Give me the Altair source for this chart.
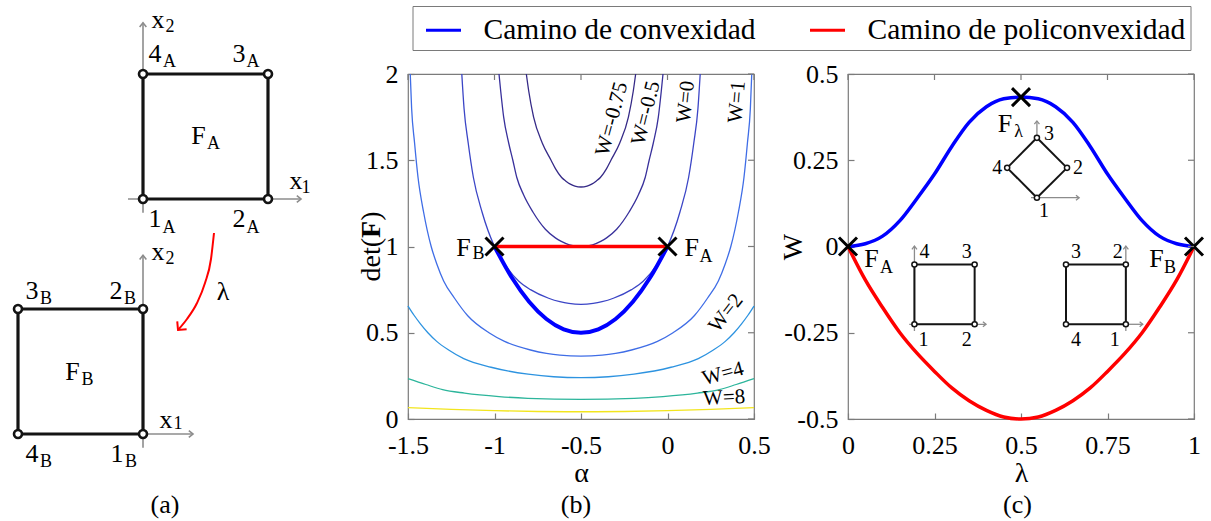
import altair as alt
import pandas as pd

FONT = "Liberation Serif"
BLUE = "#0000ff"
RED = "#ff0000"
FRAME = "#7b7b7b"
GRAY = "#8c8c8c"
INK = "#141414"

# ---------------- panel (a): reference squares ----------------
sqA_x = [0, 1, 1, 0]
sqA_y = [0, 0, 1, 1]
sqB_x = [0, 0, -1, -1]
sqB_y = [-1.88, -0.88, -0.88, -1.88]
a_axis_x1 = [-0.12, 0.0, 0.0, 0.0]
a_axis_y1 = [0.0, -0.11, -1.88, -1.99]
a_axis_x2 = [1.264, 0.0, 0.4, 0.0]
a_axis_y2 = [0.0, 1.41, -1.88, -0.45]
lam_arrow_x = [0.568, 0.544, 0.496, 0.432, 0.352, 0.28]
lam_arrow_y = [-0.272, -0.48, -0.672, -0.832, -0.96, -1.048]

# ---------------- panel (b): contour map ----------------
b_x_ticks = [-1.5, -1, -0.5, 0, 0.5]
b_y_ticks = [0, 0.5, 1, 1.5, 2]
w_levels = ["W=-0.75", "W=-0.5", "W=0", "W=1", "W=2", "W=4", "W=8"]
alpha_wm075 = [-0.816, -0.802, -0.774, -0.724, -0.673, -0.647, -0.612, -0.589, -0.559, -0.535, -0.5,
               -0.465, -0.441, -0.411, -0.388, -0.353, -0.327, -0.276, -0.226, -0.198, -0.184]
det_wm075 = [2.0, 1.9, 1.75, 1.6, 1.5, 1.45, 1.4, 1.38, 1.36, 1.35, 1.345,
             1.35, 1.36, 1.38, 1.4, 1.45, 1.5, 1.6, 1.75, 1.9, 2.0]
alpha_wm05 = [-0.974, -0.964, -0.947, -0.918, -0.894, -0.871, -0.832, -0.778, -0.706, -0.648, -0.614, -0.567, -0.5,
              -0.433, -0.386, -0.352, -0.294, -0.222, -0.168, -0.129, -0.106, -0.082, -0.053, -0.036, -0.026]
det_wm05 = [2.0, 1.9, 1.75, 1.6, 1.5, 1.4, 1.3, 1.2, 1.1, 1.05, 1.03, 1.01, 1.0,
            1.01, 1.03, 1.05, 1.1, 1.2, 1.3, 1.4, 1.5, 1.6, 1.75, 1.9, 2.0]
alpha_w0 = [-1.189, -1.176, -1.152, -1.122, -1.072, -1.0, -0.942, -0.861, -0.792, -0.687, -0.622, -0.57, -0.5,
            -0.43, -0.378, -0.313, -0.208, -0.139, -0.058, 0.0, 0.072, 0.122, 0.152, 0.176, 0.189]
det_w0 = [2.0, 1.8, 1.6, 1.4, 1.2, 1.0, 0.9, 0.8, 0.75, 0.7, 0.68, 0.67, 0.665,
          0.67, 0.68, 0.7, 0.75, 0.8, 0.9, 1.0, 1.2, 1.4, 1.6, 1.8, 2.0]
alpha_w1 = [-1.487, -1.479, -1.462, -1.442, -1.41, -1.366, -1.334, -1.294, -1.231, -1.156, -1.032, -0.942, -0.792,
            -0.7, -0.622, -0.5, -0.378, -0.3, -0.208, -0.058, 0.032, 0.156, 0.231, 0.294, 0.334, 0.366, 0.41,
            0.442, 0.462, 0.479, 0.487]
det_w1 = [2.0, 1.8, 1.6, 1.4, 1.2, 1.0, 0.9, 0.8, 0.7, 0.6, 0.5, 0.45, 0.4, 0.38, 0.37, 0.365,
          0.37, 0.38, 0.4, 0.45, 0.5, 0.6, 0.7, 0.8, 0.9, 1.0, 1.2, 1.4, 1.6, 1.8, 2.0]
alpha_w2 = [-1.5, -1.464, -1.427, -1.385, -1.334, -1.265, -1.178, -1.02, -0.806, -0.658, -0.5,
            -0.342, -0.194, 0.02, 0.178, 0.265, 0.334, 0.385, 0.427, 0.464, 0.5]
det_w2 = [0.655, 0.6, 0.55, 0.5, 0.45, 0.4, 0.35, 0.3, 0.26, 0.245, 0.24,
          0.245, 0.26, 0.3, 0.35, 0.4, 0.45, 0.5, 0.55, 0.6, 0.655]
alpha_w4 = [-1.5, -1.397, -1.3, -1.173, -0.974, -0.808, -0.5, -0.192, -0.026, 0.173, 0.3, 0.397, 0.5]
det_w4 = [0.234, 0.2, 0.17, 0.15, 0.13, 0.12, 0.114, 0.12, 0.13, 0.15, 0.17, 0.2, 0.234]
alpha_w8 = [-1.5, -1.25, -1.0, -0.75, -0.5, -0.25, 0.0, 0.25, 0.5]
det_w8 = [0.066, 0.0555, 0.048, 0.0435, 0.042, 0.0435, 0.048, 0.0555, 0.066]
contour_alpha = [alpha_wm075, alpha_wm05, alpha_w0, alpha_w1, alpha_w2, alpha_w4, alpha_w8]
contour_det = [det_wm075, det_wm05, det_w0, det_w1, det_w2, det_w4, det_w8]
label_alpha = [-0.321, -0.124, 0.107, 0.402, 0.338, 0.321, 0.327]
label_det = [1.739, 1.774, 1.838, 1.838, 0.614, 0.261, 0.122]

conv_alpha = [-1, -0.9, -0.8, -0.7, -0.6, -0.5, -0.4, -0.3, -0.2, -0.1, 0]
conv_det = [1, 0.82, 0.68, 0.58, 0.52, 0.5, 0.52, 0.58, 0.68, 0.82, 1]
poly_alpha = [-1, 0]
poly_det = [1, 1]

# ---------------- panel (c): W along the paths ----------------
c_x_ticks = [0, 0.25, 0.5, 0.75, 1]
c_y_ticks = [-0.5, -0.25, 0, 0.25, 0.5]
lam = [0, 0.05, 0.1, 0.15, 0.2, 0.25, 0.3, 0.35, 0.4, 0.45, 0.5,
       0.55, 0.6, 0.65, 0.7, 0.75, 0.8, 0.85, 0.9, 0.95, 1.0]
w_conv = [0, 0.008, 0.03, 0.075, 0.14, 0.21, 0.29, 0.36, 0.405, 0.428, 0.433,
          0.428, 0.405, 0.36, 0.29, 0.21, 0.14, 0.075, 0.03, 0.008, 0]
w_poly = [0, -0.097, -0.177, -0.25, -0.31, -0.362, -0.41, -0.447, -0.475, -0.494, -0.5,
          -0.494, -0.475, -0.447, -0.41, -0.362, -0.31, -0.25, -0.177, -0.097, 0]
path_names = ["Camino de convexidad", "Camino de policonvexidad"]
mark_lam = [0, 0.5, 1]
mark_w = [0, 0.433, 0]
insA_x = [0.192, 0.366, 0.366, 0.192]
insA_y = [-0.2255, -0.2255, -0.052, -0.052]
insB_x = [0.803, 0.803, 0.630, 0.630]
insB_y = [-0.2255, -0.052, -0.052, -0.2255]
insL_x = [0.546, 0.633, 0.546, 0.46]
insL_y = [0.1415, 0.228, 0.315, 0.228]
ins_ax_x1 = [0.177, 0.192, 0.803, 0.803, 0.529, 0.546]
ins_ax_y1 = [-0.2255, -0.245, -0.2255, -0.245, 0.1415, 0.315]
ins_ax_x2 = [0.399, 0.192, 0.852, 0.803, 0.668, 0.546]
ins_ax_y2 = [-0.2255, 0.001, -0.2255, 0.001, 0.1415, 0.364]

# ---------------- helpers ----------------
XSHAPE = "M-1,-1L1,1M-1,1L1,-1"
CHEV = "M-1,-0.8L0,0L-1,0.8"
CHEV_RED = "M-1,-1L0,0L-1,1"


def axis_common():
    return dict(offset=-6, tickSize=6, domain=False, grid=False, tickColor=FRAME, tickWidth=1.2,
                labelFont=FONT, labelFontSize=26, labelColor="black", titleFont=FONT, titleFontSize=28,
                titleFontWeight="normal", titleColor="black", labelFlush=False, labelOverlap=False,
                labelExpr="'' + datum.value", titleBaseline="middle")


def make_enc(xdom, ydom, xaxis=None, yaxis=None):
    xs = alt.Scale(domain=xdom, nice=False, zero=False)
    ys = alt.Scale(domain=ydom, nice=False, zero=False)

    def X():
        return alt.X("x:Q", scale=xs, axis=xaxis)

    def Y():
        return alt.Y("y:Q", scale=ys, axis=yaxis)
    return X, Y


def pts(xs, ys):
    return pd.DataFrame({"x": xs, "y": ys})


def edges(xs, ys):
    n = len(xs)
    return pd.DataFrame({"x": xs, "y": ys,
                         "x2": [xs[(i + 1) % n] for i in range(n)],
                         "y2": [ys[(i + 1) % n] for i in range(n)]})


def segs(x1, y1, x2, y2):
    return pd.DataFrame({"x": x1, "y": y1, "x2": x2, "y2": y2})


def txt(x, y, s, dx, dy, size, X, Y, angle=0):
    df = pd.DataFrame({"x": [x], "y": [y], "t": [s]})
    return alt.Chart(df).mark_text(dx=dx, dy=dy, fontSize=size, font=FONT, color="black",
                                   align="center", baseline="middle", angle=angle).encode(
        x=X(), y=Y(), text="t:N")


def sublabel(x, y, main, sub, off, X, Y, msize=26, ssize=18):
    dx, dy, sdx, sdy = off
    return [txt(x, y, main, dx, dy, msize, X, Y), txt(x, y, sub, sdx, sdy, ssize, X, Y)]


def fixed_text(s, px, py, size=26, angle=0, weight="normal"):
    return alt.Chart(pd.DataFrame({"t": [s]})).mark_text(
        fontSize=size, font=FONT, color="black", align="center", baseline="middle",
        angle=angle, fontWeight=weight).encode(x=alt.value(px), y=alt.value(py), text="t:N")


def rule_layer(df, X, Y, color, width):
    return alt.Chart(df).mark_rule(color=color, strokeWidth=width).encode(
        x=X(), y=Y(), x2="x2:Q", y2="y2:Q")


def heads(xs, ys, X, Y, angle, size, color, width, shape=CHEV):
    return alt.Chart(pts(xs, ys)).mark_point(shape=shape, angle=angle, size=size, filled=False,
                                             color=color, strokeWidth=width, opacity=1).encode(x=X(), y=Y())


def nodes(xs, ys, X, Y, size, width):
    return alt.Chart(pts(xs, ys)).mark_point(shape="circle", filled=True, fill="white", stroke=INK,
                                             strokeWidth=width, size=size, opacity=1).encode(x=X(), y=Y())


def frame_ticks(xt, yt, X, Y, w):
    top = alt.Chart(pd.DataFrame({"x": xt})).mark_rule(color=FRAME, strokeWidth=1.2).encode(
        x=X(), y=alt.value(0), y2=alt.value(6))
    right = alt.Chart(pd.DataFrame({"y": yt})).mark_rule(color=FRAME, strokeWidth=1.2).encode(
        y=Y(), x=alt.value(w), x2=alt.value(w - 6))
    return [top, right]


# ---------------- panel (a) ----------------
AW, AH, PW, PH = 313, 345, 346, 345
Xa, Ya = make_enc([-1.136, 1.368], [-1.76, 1.0])
a_layers = []
a_layers.append(alt.Chart(pd.DataFrame({"x": [-1.136], "y": [1.584], "x2": [1.368], "y2": [-2.5]}))
                .mark_rect(fill="white", stroke="white", strokeWidth=0)
                .encode(x=Xa(), y=Ya(), x2="x2:Q", y2="y2:Q"))
a_layers.append(rule_layer(segs(a_axis_x1, a_axis_y1, a_axis_x2, a_axis_y2), Xa, Ya, GRAY, 1.6))
a_layers.append(heads([1.264, 0.4], [0.0, -1.88], Xa, Ya, 0, 70, GRAY, 1.6))
a_layers.append(heads([0.0, 0.0], [1.41, -0.45], Xa, Ya, 270, 70, GRAY, 1.6))
a_layers.append(rule_layer(edges(sqA_x, sqA_y), Xa, Ya, INK, 3.2))
a_layers.append(rule_layer(edges(sqB_x, sqB_y), Xa, Ya, INK, 3.2))
a_layers.append(nodes(sqA_x + sqB_x, sqA_y + sqB_y, Xa, Ya, 64, 2.6))
a_layers.append(alt.Chart(pts(lam_arrow_x, lam_arrow_y)).mark_line(color=RED, strokeWidth=2, interpolate="monotone")
                .encode(x=Xa(), y=Ya()))
a_layers.append(heads([lam_arrow_x[-1]], [lam_arrow_y[-1]], Xa, Ya, 130, 150, RED, 2, CHEV_RED))
a_layers.append(txt(lam_arrow_x[2], lam_arrow_y[2], "λ", 18, 9, 26, Xa, Ya))
a_layers += sublabel(0, 1, "4", "A", (12, -20, 26.5, -12.5), Xa, Ya)
a_layers += sublabel(1, 1, "3", "A", (-29, -20, -15, -12.5), Xa, Ya)
a_layers += sublabel(0, 0, "1", "A", (12, 20, 26, 29), Xa, Ya)
a_layers += sublabel(1, 0, "2", "A", (-29, 20, -15, 29), Xa, Ya)
a_layers += sublabel(0.5, 0.5, "F", "A", (-7, -1, 8, 7), Xa, Ya)
a_layers += sublabel(0, 1.41, "x", "2", (15, -3, 27, 4), Xa, Ya)
a_layers += sublabel(1.264, 0, "x", "1", (-5, -18, 5, -11), Xa, Ya)
a_layers += sublabel(-1, -0.88, "3", "B", (14, -18, 28, -10), Xa, Ya)
a_layers += sublabel(0, -0.88, "2", "B", (-27, -18, -13, -10), Xa, Ya)
a_layers += sublabel(-1, -1.88, "4", "B", (14, 20, 28, 28), Xa, Ya)
a_layers += sublabel(0, -1.88, "1", "B", (-26, 20, -12, 28), Xa, Ya)
a_layers += sublabel(-0.5, -1.38, "F", "B", (-8, 0, 7, 8), Xa, Ya)
a_layers += sublabel(0.4, -1.88, "x", "1", (-27, -14, -15, -10), Xa, Ya)
a_layers += sublabel(0, -0.45, "x", "2", (15, -3, 27, 4), Xa, Ya)
a_layers.append(fixed_text("(a)", 164, 431))
panel_a = alt.layer(*a_layers).properties(
    width=AW, height=AH, view=alt.ViewBackground(stroke="transparent"))

# ---------------- panel (b) ----------------
bx_axis = alt.Axis(values=b_x_ticks, title="α", labelPadding=13, titleY=60, **axis_common())
by_axis = alt.Axis(values=b_y_ticks, title=None, labelPadding=10, **axis_common())
Xb, Yb = make_enc([-1.5, 0.5], [0, 2], bx_axis, by_axis)
contour_colors = ["#352a87", "#38309b", "#3b45c6", "#3f6de6", "#2d93e0", "#2cb59b", "#f2e51d"]
label_angles = [285, 284, 276, 275, 308, 345, 357]
b_layers = []
for i in range(len(w_levels)):
    b_layers.append(alt.Chart(pts(contour_alpha[i], contour_det[i]))
                    .mark_line(color=contour_colors[i], strokeWidth=1.3, interpolate="monotone")
                    .encode(x=Xb(), y=Yb()))
b_layers.append(alt.Chart(pts(conv_alpha, conv_det)).mark_line(color=BLUE, strokeWidth=4, interpolate="monotone")
                .encode(x=Xb(), y=Yb()))
b_layers.append(alt.Chart(pts(poly_alpha, poly_det)).mark_line(color=RED, strokeWidth=3.5)
                .encode(x=Xb(), y=Yb()))
b_layers.append(alt.Chart(pts(poly_alpha, poly_det)).mark_point(shape=XSHAPE, size=324, filled=False,
                                                                color="black", strokeWidth=3, opacity=1)
                .encode(x=Xb(), y=Yb()))
b_layers += sublabel(-1, 1, "F", "B", (-31, 1.7, -16, 7.5), Xb, Yb)
b_layers += sublabel(0, 1, "F", "A", (24.3, 1.7, 38.5, 10), Xb, Yb)
for i in range(len(w_levels)):
    b_layers.append(txt(label_alpha[i], label_det[i], w_levels[i], 0, 0, 21, Xb, Yb, label_angles[i]))
b_layers += frame_ticks(b_x_ticks, b_y_ticks, Xb, Yb, PW)
# y-axis title "det(F)" with a bold F, written bottom-to-top
b_layers.append(fixed_text("det(", -36, 185.7, 28, 270))
b_layers.append(fixed_text("F", -36, 155.4, 28, 270, "bold"))
b_layers.append(fixed_text(")", -36, 142.2, 28, 270))
b_layers.append(fixed_text("(b)", 168, 431))
panel_b = alt.layer(*b_layers).properties(
    width=PW, height=PH, view=alt.ViewBackground(stroke=FRAME, strokeWidth=1.2))

# ---------------- panel (c) ----------------
cx_axis = alt.Axis(values=c_x_ticks, title="λ", labelPadding=13, titleY=60, **axis_common())
cy_axis = alt.Axis(values=c_y_ticks, title="W", labelPadding=10, titleX=-61, **axis_common())
Xc, Yc = make_enc([0, 1], [-0.5, 0.5], cx_axis, cy_axis)
paths_df = pd.DataFrame({
    "x": lam + lam,
    "y": w_conv + w_poly,
    "camino": [path_names[0]] * len(lam) + [path_names[1]] * len(lam),
})
legend = alt.Legend(title=None, orient="none", legendX=-435.5, legendY=-68, direction="horizontal",
                    symbolType="stroke", symbolSize=1225, symbolStrokeWidth=3, symbolOffset=7,
                    labelFont=FONT, labelFontSize=29.5, labelColor="black", labelLimit=500, labelOffset=21,
                    columnPadding=46, padding=5, strokeColor="#7a7a7a", fillColor="white")
c_layers = []
c_layers.append(alt.Chart(paths_df).mark_line(strokeWidth=3.5, interpolate="monotone").encode(
    x=Xc(), y=Yc(),
    color=alt.Color("camino:N", scale=alt.Scale(domain=path_names, range=[BLUE, RED]), legend=legend)))
c_layers.append(alt.Chart(pts(mark_lam, mark_w)).mark_point(shape=XSHAPE, size=324, filled=False,
                                                            color="black", strokeWidth=3, opacity=1)
                .encode(x=Xc(), y=Yc()))
c_layers += sublabel(0, 0, "F", "A", (23.5, 12, 38.5, 21), Xc, Yc)
c_layers += sublabel(1, 0, "F", "B", (-37.5, 12, -24, 21), Xc, Yc)
c_layers += sublabel(0.5, 0.433, "F", "λ", (-16, 27, -2.5, 35), Xc, Yc)
c_layers.append(rule_layer(segs(ins_ax_x1, ins_ax_y1, ins_ax_x2, ins_ax_y2), Xc, Yc, GRAY, 1.3))
c_layers.append(heads([0.399, 0.852, 0.668], [-0.2255, -0.2255, 0.1415], Xc, Yc, 0, 40, GRAY, 1.3))
c_layers.append(heads([0.192, 0.803, 0.546], [0.001, 0.001, 0.364], Xc, Yc, 270, 40, GRAY, 1.3))
for xs, ys in ((insA_x, insA_y), (insB_x, insB_y), (insL_x, insL_y)):
    c_layers.append(rule_layer(edges(xs, ys), Xc, Yc, INK, 2))
c_layers.append(nodes(insA_x + insB_x + insL_x, insA_y + insB_y + insL_y, Xc, Yc, 26, 1.5))
num_offsets_A = [(9, 16), (-8, 16), (-8, -12), (10, -12)]
num_offsets_B = [(-11, 16), (-8, -12), (10, -12), (10, 16)]
num_offsets_L = [(7, 13), (11, 0), (12, -4), (-10, 0)]
for xs, ys, offs in ((insA_x, insA_y, num_offsets_A), (insB_x, insB_y, num_offsets_B),
                     (insL_x, insL_y, num_offsets_L)):
    for k in range(4):
        c_layers.append(txt(xs[k], ys[k], str(k + 1), offs[k][0], offs[k][1], 20, Xc, Yc))
c_layers += frame_ticks(c_x_ticks, c_y_ticks, Xc, Yc, PW)
c_layers.append(fixed_text("(c)", 169.5, 431))
panel_c = alt.layer(*c_layers).properties(
    width=PW, height=PH, view=alt.ViewBackground(stroke=FRAME, strokeWidth=1.2))

chart = alt.hconcat(panel_a, panel_b, panel_c, spacing=94, bounds="flush").resolve_scale(
    color="independent").properties(padding=0).configure(font=FONT).configure_view(stroke="transparent")

chart.save("out.html", embed_options={"renderer": "svg", "actions": False})
